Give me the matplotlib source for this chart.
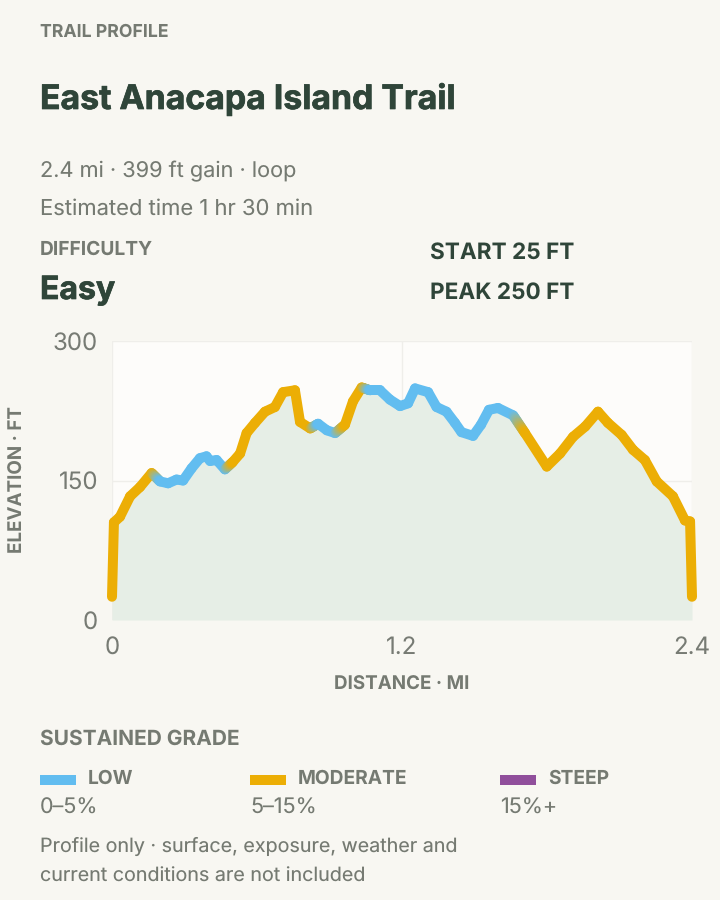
import numpy as np
import matplotlib
matplotlib.use("Agg")
import matplotlib.pyplot as plt
import matplotlib.patheffects as pe
from matplotlib.collections import LineCollection
from matplotlib.colors import to_rgb
from matplotlib.patches import Rectangle

plt.rcParams['font.family'] = ['Inter', 'DejaVu Sans']
plt.rcParams['text.hinting'] = 'no_hinting'
plt.rcParams['text.hinting_factor'] = 1

distance_mi = [0.0, 0.008, 0.033, 0.075, 0.116, 0.164, 0.199, 0.232, 0.267, 0.294, 0.329, 0.364,
               0.391, 0.406, 0.433, 0.467, 0.5, 0.53, 0.557, 0.592, 0.633, 0.674, 0.708, 0.757,
               0.778, 0.82, 0.853, 0.889, 0.923, 0.964, 0.997, 1.033, 1.068, 1.109, 1.15, 1.192,
               1.225, 1.254, 1.308, 1.343, 1.384, 1.419, 1.446, 1.494, 1.527, 1.56, 1.597, 1.66,
               1.709, 1.799, 1.854, 1.908, 1.958, 2.011, 2.052, 2.109, 2.156, 2.205, 2.254, 2.321,
               2.371, 2.392, 2.4]
elevation_ft = [25, 105, 111, 133, 143, 158, 149, 147, 151, 150, 163, 174,
                176, 171, 172, 162, 170, 179, 201, 212, 224, 229, 245, 247,
                213, 206, 211, 204, 201, 210, 235, 250, 247, 247, 237, 230,
                233, 249, 245, 229, 224, 212, 202, 198, 210, 226, 228, 220,
                201, 165, 179, 197, 208, 224, 212, 199, 183, 172, 149, 133,
                107, 106, 25]
# grade class of each stretch between neighbouring points: 0 low, 1 moderate
grade_class = [1, 1, 1, 1, 1, 0, 0, 0, 0, 0, 0, 0,
               0, 0, 0, 1, 1, 1, 1, 1, 1, 1, 1, 1,
               1, 0, 0, 0, 1, 1, 1, 0, 0, 0, 0, 0,
               0, 0, 0, 0, 0, 0, 0, 0, 0, 0, 0, 1,
               1, 1, 1, 1, 1, 1, 1, 1, 1, 1, 1, 1,
               1, 1]
x_ticks = [0, 1.2, 2.4]
y_ticks = [0, 150, 300]
legend_names = ["LOW", "MODERATE", "STEEP"]
legend_ranges = ["0–5%", "5–15%", "15%+"]
legend_colors = ["#62bdf0", "#ecae05", "#904f9b"]

PAGE = "#f8f7f2"
GREY = "#757a72"
DARK = "#2f4539"
W, H = 720, 900

fig = plt.figure(figsize=(7.2, 9), dpi=100, facecolor=PAGE)
ax = fig.add_axes([112 / W, 1 - 620 / H, 580 / W, 279 / H])
ax.set_facecolor("#fdfcfa")
ax.set_xlim(0, 2.4)
ax.set_ylim(0, 300)
for s in ax.spines.values():
    s.set_visible(False)
ax.set_xticks(x_ticks, [f"{t:g}" for t in x_ticks])
ax.set_yticks(y_ticks)
ax.tick_params(length=0, colors="#777b74", labelsize=17.3, pad=10)
ax.tick_params(axis='x', pad=12)
ax.grid(True, color="#efeeea", lw=1)
ax.set_axisbelow(True)
ax.fill_between(distance_mi, elevation_ft, 0, color="#e6eee6", lw=0, zorder=2)

# coloured profile line; the first stretch of a new grade class blends from the old colour
d = np.array(distance_mi, float)
e = np.array(elevation_ft, float)
segs, cols = [], []
pal = [np.array(to_rgb(legend_colors[0])), np.array(to_rgb(legend_colors[1]))]
g = grade_class
for i in range(len(d) - 1):
    blend = i > 0 and g[i] != g[i - 1]
    a = pal[g[i - 1]] if blend else pal[g[i]]
    b = pal[g[i]]
    steps = 12 if blend else 1
    for k in range(steps):
        t0, t1 = k / steps, (k + 1) / steps
        segs.append([(d[i] + t0 * (d[i + 1] - d[i]), e[i] + t0 * (e[i + 1] - e[i])),
                     (d[i] + t1 * (d[i + 1] - d[i]), e[i] + t1 * (e[i + 1] - e[i]))])
        cols.append(a + (b - a) * (t0 + t1) / 2)
lc = LineCollection(segs, colors=cols, linewidths=7.2, capstyle="round", joinstyle="round",
                    zorder=3, clip_on=False)
ax.add_collection(lc)


def T(x, y, s, size, color=GREY, weight="normal", stroke=0, **kw):
    t = fig.text(x / W, 1 - y / H, s, fontsize=size * 0.72, color=color, fontweight=weight,
                 va=kw.pop("va", "baseline"), **kw)
    if stroke:
        t.set_path_effects([pe.withStroke(linewidth=stroke, foreground=color)])


T(40, 37, "TRAIL PROFILE", 17.7, weight="bold")
T(40, 109, "East Anacapa Island Trail", 33.8, DARK, "bold", stroke=0.5)
T(40, 177, "2.4 mi · 399 ft gain · loop", 21.7)
T(40, 215, "Estimated time 1 hr 30 min", 22)
T(40, 255, "DIFFICULTY", 19.2, weight="bold")
T(40, 299, "Easy", 32, DARK, "bold", stroke=0.5)
T(430, 259, "START 25 FT", 22.6, DARK, "bold")
T(430, 299, "PEAK 250 FT", 22.6, DARK, "bold")
T(402, 690, "DISTANCE · MI", 18.8, weight="bold", ha="center")
T(18, 480, "ELEVATION · FT", 18.8, weight="bold", rotation=90, ha="center", va="center")
T(40, 745, "SUSTAINED GRADE", 20.9, weight="bold")
for sx, lx, name, rng, c in zip([40, 250, 500], [88, 298, 548], legend_names, legend_ranges, legend_colors):
    fig.add_artist(Rectangle((sx / W, 1 - 785 / H), 36 / W, 10 / H, transform=fig.transFigure,
                             facecolor=c, edgecolor="none"))
    T(lx, 784, name, 19.2, weight="bold")
    T(sx, 814, rng, 21.5)
T(40, 852, "Profile only · surface, exposure, weather and", 19.7)
T(40, 882, "current conditions are not included", 19.7)

fig.savefig("out.png", dpi=100, facecolor=PAGE)
